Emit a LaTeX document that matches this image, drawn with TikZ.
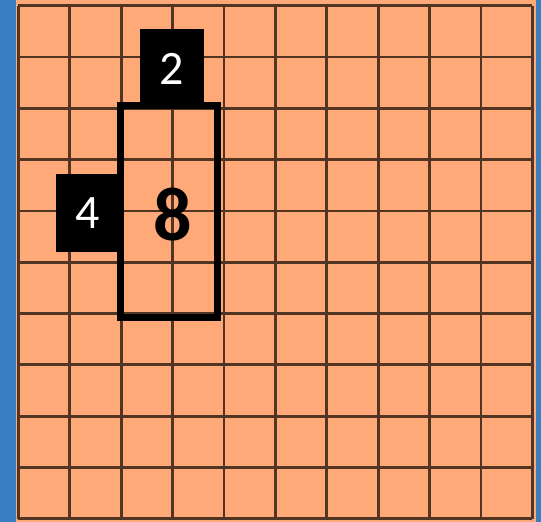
\documentclass[tikz,border=0pt]{standalone}
\usepackage{fontspec}
\setmainfont{Carlito}
\definecolor{bgblue}{HTML}{3A7EC2}
\definecolor{cellorange}{HTML}{FFA878}
\definecolor{gridbrown}{HTML}{503424}
\begin{document}
\begin{tikzpicture}[x=1pt,y=-1pt,
  gridline/.style={draw=gridbrown,line width=2.8pt},
  blackbox/.style={fill=black,draw=none},
  thickframe/.style={draw=black,line width=7pt},
  smalllabel/.style={text=white,font=\fontsize{48}{48}\selectfont,inner sep=0pt},
  biglabel/.style={text=black,font=\fontsize{76}{76}\selectfont\bfseries,inner sep=0pt}]
\useasboundingbox (0,0) rectangle (541,522);
\fill[bgblue] (0,0) rectangle (541,522);
\fill[cellorange] (16,0) rectangle (536,522);
\foreach \i in {0,...,10} {
  \draw[gridline] ({18.3+51.4*\i},5.7) -- ({18.3+51.4*\i},518.7);
  \draw[gridline] (18.3,{5.7+51.3*\i}) -- (532.3,{5.7+51.3*\i});
}
\fill[blackbox] (140,29) rectangle (204,106);
\fill[blackbox] (56,174) rectangle (121,252);
\draw[thickframe] (120.5,105.5) rectangle (217,317);
\node[smalllabel] (two) at (172,69) {2};
\node[smalllabel] (four) at (88,213) {4};
\node[biglabel] (eight) at (173,215) {8};
\end{tikzpicture}
\end{document}
